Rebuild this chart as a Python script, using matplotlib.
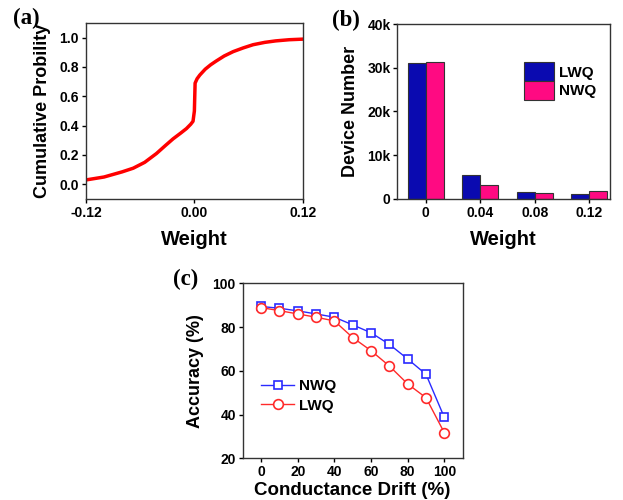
import numpy as np
import matplotlib.pyplot as plt

plt.rcParams['font.family'] = ['Liberation Sans', 'DejaVu Sans']
plt.rcParams['font.weight'] = 'bold'

# (a) cumulative probability curve
cdf_w = [-0.12, -0.10, -0.08, -0.0677, -0.055, -0.042, -0.032, -0.0236, -0.015, -0.0088,
         -0.004, -0.0015, 0.0, 0.0008, 0.003, 0.006, 0.012, 0.018, 0.024, 0.033, 0.043,
         0.054, 0.065, 0.078, 0.09, 0.105, 0.12]
cdf_p = [0.03, 0.05, 0.085, 0.11, 0.15, 0.21, 0.265, 0.31, 0.35, 0.38,
         0.41, 0.43, 0.50, 0.69, 0.72, 0.745, 0.785, 0.815, 0.84, 0.875, 0.905,
         0.93, 0.952, 0.968, 0.978, 0.986, 0.99]

# (b) device counts
weights = ['0', '0.04', '0.08', '0.12']
lwq_count = [31000, 5400, 1600, 1100]
nwq_count = [31400, 3200, 1400, 1900]

# (c) accuracy vs drift
drift = [0, 10, 20, 30, 40, 50, 60, 70, 80, 90, 100]
acc_nwq = [89.4, 88.6, 87.4, 86.0, 84.5, 81.0, 77.4, 72.1, 65.4, 58.4, 38.7]
acc_lwq = [88.9, 87.5, 86.0, 84.5, 82.8, 75.2, 69.2, 62.2, 54.0, 47.7, 31.7]

fig = plt.figure(figsize=(6.23, 5.0), dpi=100)

def style(ax):
    for s in ax.spines.values():
        s.set_linewidth(1.0)
        s.set_color('#333333')
    ax.tick_params(direction='out', length=3, width=1, labelsize=10, pad=2)
    for lab in ax.get_xticklabels() + ax.get_yticklabels():
        lab.set_fontweight('bold')

# panel (a)
ax1 = fig.add_axes([0.138, 0.602, 0.348, 0.352])
ax1.plot(cdf_w, cdf_p, color='#ff0000', lw=2.5)
ax1.set_xlim(-0.12, 0.12)
ax1.set_ylim(-0.1, 1.1)
ax1.set_xticks([-0.12, 0.0, 0.12])
ax1.set_xticklabels(['-0.12', '0.00', '0.12'])
ax1.set_yticks([0.0, 0.2, 0.4, 0.6, 0.8, 1.0])
ax1.set_yticklabels(['0.0', '0.2', '0.4', '0.6', '0.8', '1.0'])
ax1.set_xlabel('Weight', fontsize=14.5, fontweight='bold', labelpad=7)
ax1.set_ylabel('Cumulative Probility', fontsize=13, fontweight='bold', labelpad=6)
style(ax1)

# panel (b)
ax2 = fig.add_axes([0.638, 0.602, 0.341, 0.350])
x = np.arange(len(weights))
bw = 0.33
ax2.bar(x - bw / 2, lwq_count, bw, color='#0a0ab0', edgecolor='#333333', lw=0.8, label='LWQ')
ax2.bar(x + bw / 2, nwq_count, bw, color='#ff0a82', edgecolor='#333333', lw=0.8, label='NWQ')
ax2.set_xlim(-0.52, 3.38)
ax2.set_ylim(0, 40000)
ax2.set_xticks(x)
ax2.set_xticklabels(weights)
ax2.set_yticks([0, 10000, 20000, 30000, 40000])
ax2.set_yticklabels(['0', '10k', '20k', '30k', '40k'])
ax2.set_xlabel('Weight', fontsize=14.5, fontweight='bold', labelpad=7)
ax2.set_ylabel('Device Number', fontsize=13, fontweight='bold', labelpad=6)
ax2.legend(loc='upper right', bbox_to_anchor=(1.0, 0.86), frameon=False,
           handlelength=2.0, handleheight=1.5, handletextpad=0.3, labelspacing=0.0,
           prop={'weight': 'bold', 'size': 11})
style(ax2)

# panel (c)
ax3 = fig.add_axes([0.3896, 0.0834, 0.353, 0.350])
ax3.plot(drift, acc_nwq, color='#2a2aff', lw=1.0, marker='s', ms=6, mfc='white',
         mec='#2a2aff', mew=1.2, label='NWQ')
ax3.plot(drift, acc_lwq, color='#ff2a2a', lw=1.0, marker='o', ms=7, mfc='white',
         mec='#ff2a2a', mew=1.2, label='LWQ')
ax3.set_xlim(-10, 110)
ax3.set_ylim(20, 100)
ax3.set_xticks([0, 20, 40, 60, 80, 100])
ax3.set_yticks([20, 40, 60, 80, 100])
ax3.set_xlabel('Conductance Drift (%)', fontsize=13.5, fontweight='bold', labelpad=2)
ax3.set_ylabel('Accuracy (%)', fontsize=13, fontweight='bold', labelpad=6)
ax3.legend(loc='upper left', bbox_to_anchor=(0.02, 0.53), frameon=False,
           handlelength=2.2, handletextpad=0.3, labelspacing=0.35,
           prop={'weight': 'bold', 'size': 11})
style(ax3)

for lbl, xx, yy in [('(a)', 0.021, 0.963), ('(b)', 0.533, 0.960), ('(c)', 0.278, 0.442)]:
    fig.text(xx, yy, lbl, fontsize=16.5, fontweight='bold', family='Liberation Serif',
             va='center', ha='left')

fig.savefig('out.png', dpi=100)
